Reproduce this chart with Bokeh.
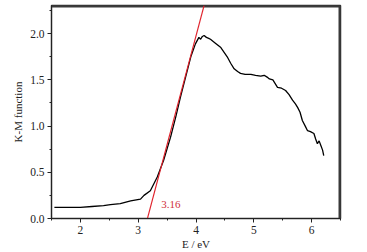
from bokeh.plotting import figure
from bokeh.models import Range1d, Label, FixedTicker
from bokeh.embed import file_html
from bokeh.resources import INLINE

# K-M function data
energy = [1.55, 1.8, 2.0, 2.2, 2.4, 2.52, 2.69, 2.87, 3.04, 3.10, 3.21, 3.33, 3.44,
          3.56, 3.65, 3.73, 3.82, 3.91, 3.99, 4.05, 4.08, 4.11, 4.14, 4.18, 4.22,
          4.25, 4.33, 4.43, 4.54, 4.60, 4.66, 4.72, 4.77, 4.85, 4.95, 5.03, 5.12,
          5.18, 5.23, 5.27, 5.33, 5.41, 5.48, 5.55, 5.61, 5.67, 5.72, 5.76, 5.80,
          5.84, 5.89, 5.93, 5.98, 6.04, 6.07, 6.10, 6.13, 6.16, 6.19, 6.21]
km = [0.12, 0.12, 0.12, 0.13, 0.14, 0.15, 0.16, 0.19, 0.21, 0.25, 0.30, 0.45, 0.63,
      0.88, 1.10, 1.31, 1.53, 1.75, 1.89, 1.96, 1.94, 1.97, 1.98, 1.96, 1.95,
      1.94, 1.90, 1.85, 1.75, 1.68, 1.62, 1.59, 1.57, 1.56, 1.56, 1.55, 1.54,
      1.55, 1.53, 1.51, 1.50, 1.42, 1.41, 1.385, 1.34, 1.28, 1.24, 1.20, 1.15,
      1.06, 1.00, 0.95, 0.94, 0.92, 0.86, 0.81, 0.84, 0.79, 0.74, 0.68]

# tangent line (band-gap extrapolation)
tangent_x = [3.16, 4.14]
tangent_y = [0.0, 2.305]
gap_label = "3.16"

x_ticks = [2, 3, 4, 5, 6]
y_ticks = [0.0, 0.5, 1.0, 1.5, 2.0]
x_lim = (1.5, 6.5)
y_lim = (0.0, 2.305)

FONT = "Liberation Serif"
INK = "#222222"

p = figure(width=367, height=252, output_backend="svg", toolbar_location=None,
           x_range=Range1d(*x_lim), y_range=Range1d(*y_lim),
           min_border_left=51, min_border_right=27, min_border_top=5,
           min_border_bottom=34)

# frame box on top and right, built from the axis limits (half clipped at the edge)
p.line([x_lim[0], x_lim[1], x_lim[1]], [y_lim[1], y_lim[1], y_lim[0]],
       line_color="#3a3a3a", line_width=4)

p.line(energy, km, line_color="black", line_width=1.3)
p.line(tangent_x, tangent_y, line_color="#e0202a", line_width=1.1)

p.add_layout(Label(x=3.40, y=0.15, text=gap_label, text_color="#d0303a",
                   text_font=FONT, text_font_size="11px", text_baseline="middle"))

p.grid.visible = False
p.outline_line_color = "#333333"
p.outline_line_width = 1.5
p.background_fill_color = "white"
p.border_fill_color = "white"

xa = p.below[0]
ya = p.left[0]
for ax in (xa, ya):
    ax.axis_line_color = INK
    ax.major_tick_line_color = INK
    ax.minor_tick_line_color = INK
    ax.major_tick_in = 0
    ax.major_tick_out = 4
    ax.minor_tick_in = 0
    ax.minor_tick_out = 2
    ax.major_label_text_font = FONT
    ax.major_label_text_font_size = "11.5px"
    ax.major_label_text_color = INK
    ax.axis_label_text_font = FONT
    ax.axis_label_text_font_size = "11px"
    ax.axis_label_text_font_style = "normal"
    ax.axis_label_text_color = INK

xa.ticker = FixedTicker(ticks=x_ticks, minor_ticks=[1.5, 2.5, 3.5, 4.5, 5.5, 6.5])
ya.ticker = FixedTicker(ticks=y_ticks, minor_ticks=[0.25, 0.75, 1.25, 1.75, 2.25])
ya.major_label_overrides = {0: "0.0", 0.5: "0.5", 1: "1.0", 1.5: "1.5", 2: "2.0"}
xa.major_label_standoff = 3
ya.major_label_standoff = 3
ya.axis_label = "K-M function"
ya.axis_label_standoff = 3
xa.axis_label = "E / eV"
xa.axis_label_standoff = 1

open("out.html", "w").write(file_html(p, INLINE))
